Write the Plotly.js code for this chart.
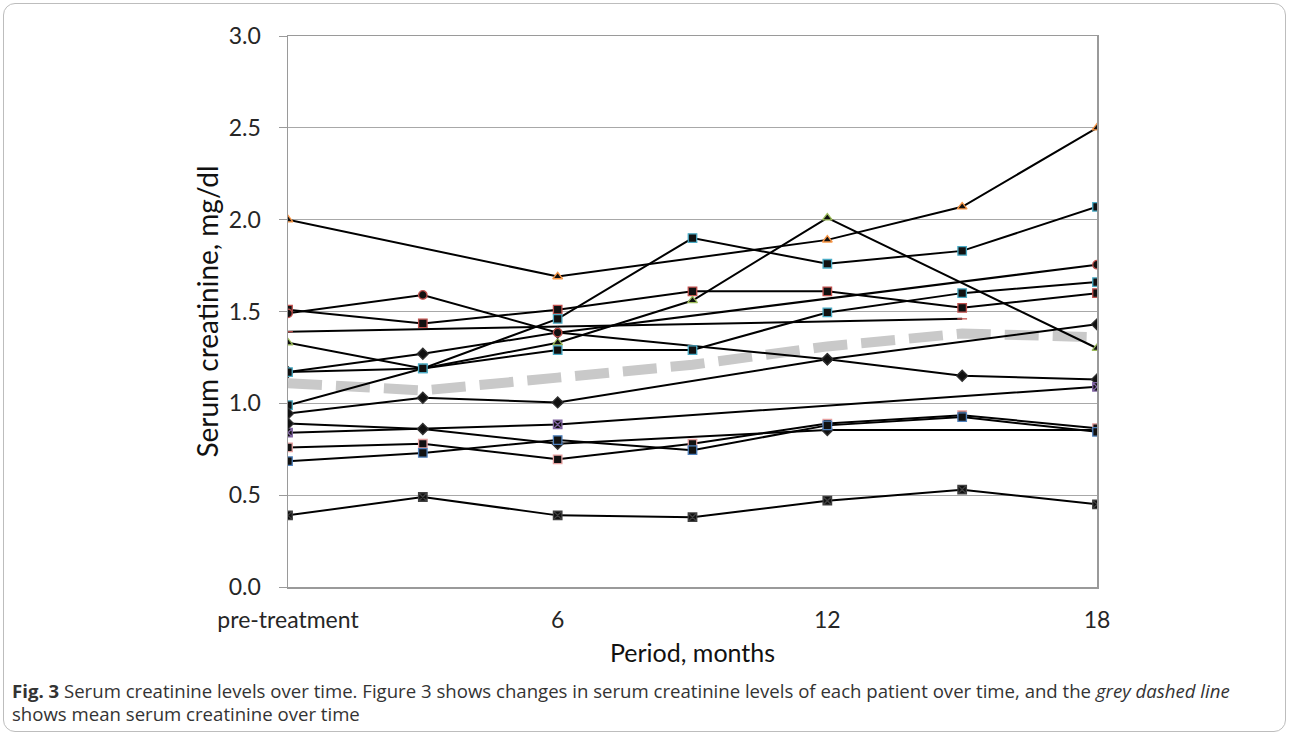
<!DOCTYPE html>
<html>
<head>
<meta charset="utf-8">
<script src="https://cdn.plot.ly/plotly-3.0.1.min.js"></script>
<style>
  html, body { margin: 0; padding: 0; background: #fff; }
  #chart { position: absolute; left: 0; top: 0; width: 1290px; height: 735px; }
  #frame { position: absolute; left: 3px; top: 3px; width: 1281px; height: 727px;
           border: 1.5px solid #bdbdbd; border-radius: 12px; pointer-events: none; }
</style>
</head>
<body>
<div id="chart"></div>
<div id="frame"></div>
<script>
// Periods (months) – categories of the x axis
const periods = ['pre-treatment', '3', '6', '9', '12', '15', '18'];
const tickLabels = ['pre-treatment', '6', '12', '18'];

// Serum creatinine (mg/dl) for each patient; null = no value at that visit
const p1  = [2.00, null, 1.69, null, 1.89, 2.07, 2.50];
const p2  = [1.51, 1.435, 1.51, 1.61, 1.61, 1.52, 1.60];
const p3  = [1.39, null, null, null, null, 1.46, null];
const p4  = [0.39, 0.49, 0.39, 0.38, 0.47, 0.53, 0.45];
const p5  = [0.99, 1.19, 1.46, 1.90, 1.76, 1.83, 2.07];
const p6  = [1.33, 1.19, 1.33, 1.56, 2.01, null, 1.30];
const p7  = [1.17, 1.27, 1.385, null, 1.24, 1.15, 1.13];
const p8  = [1.49, 1.59, 1.385, null, null, null, 1.755];
const p9  = [0.945, 1.03, 1.005, null, 1.24, null, 1.43];
const p10 = [1.17, 1.19, 1.29, 1.29, 1.495, 1.60, 1.66];
const p11 = [0.84, null, 0.885, null, null, null, 1.09];
const p12 = [0.89, 0.86, 0.78, null, 0.855, null, 0.855];
const p13 = [0.76, 0.78, 0.695, 0.78, 0.89, 0.935, 0.865];
const p14 = [0.685, 0.73, 0.80, 0.745, 0.88, 0.925, 0.845];
// Mean serum creatinine
const meanValues = [1.11, 1.07, 1.14, 1.21, 1.31, 1.38, 1.36];

const captionLine1 = '<b>Fig. 3</b> Serum creatinine levels over time. Figure 3 shows changes in serum creatinine levels of each patient over time, and the <i>grey dashed line</i>';
const captionLine2 = 'shows mean serum creatinine over time';

const patients = [p1, p2, p3, p4, p5, p6, p7, p8, p9, p10, p11, p12, p13, p14];
const symbols  = ['triangle-up', 'square', 'line-ew', 'square-x', 'square', 'triangle-up', 'diamond',
                  'circle', 'diamond', 'square', 'square-x', 'diamond', 'square', 'square'];
const borders  = ['#F79646', '#C0504D', '#C0504D', '#404040', '#4BACC6', '#9BBB59', '#303030',
                  '#C0504D', '#303030', '#4BACC6', '#8064A2', '#303030', '#E6A0A0', '#4F81BD'];

const traces = [];
traces.push({
  x: periods, y: meanValues, type: 'scatter', mode: 'lines',
  line: {color: '#c9c9c9', width: 10, dash: '34px,14px'},
  hoverinfo: 'skip', showlegend: false
});
patients.forEach((vals, i) => {
  traces.push({
    x: periods, y: vals, type: 'scatter', mode: 'lines+markers',
    connectgaps: true,
    line: {color: '#000000', width: 2},
    marker: {symbol: symbols[i], size: symbols[i] === 'line-ew' ? 7 : 8.5,
             color: '#111111', line: {color: borders[i], width: 1.3}},
    showlegend: false
  });
});

const capFont = {family: '"Open Sans", sans-serif', size: 18.6, color: '#333'};
const layout = {
  width: 1290, height: 735,
  margin: {l: 288, r: 193, t: 36, b: 148},
  paper_bgcolor: '#ffffff', plot_bgcolor: '#ffffff',
  font: {family: 'Lato, "Open Sans", sans-serif', color: '#262626'},
  showlegend: false,
  xaxis: {
    type: 'category', range: [0, 6],
    tickmode: 'array', tickvals: tickLabels, ticktext: tickLabels,
    tickfont: {size: 23, color: '#262626'},
    ticks: '', showgrid: false, zeroline: false,
    showline: true, linecolor: '#9a9a9a', linewidth: 1.5, mirror: true,
    ticklabelstandoff: 12,
    title: {text: 'Period, months', font: {size: 25, color: '#111'}, standoff: 12}
  },
  yaxis: {
    range: [0, 3], dtick: 0.5, tickformat: '.1f',
    tickfont: {size: 23, color: '#262626'},
    ticks: 'outside', ticklen: 8, tickcolor: '#9a9a9a',
    showgrid: true, gridcolor: '#a8a8a8', gridwidth: 1.2, zeroline: false,
    showline: true, linecolor: '#9a9a9a', linewidth: 1.5, mirror: true,
    ticklabelstandoff: 13,
    title: {text: 'Serum creatinine, mg/dl', font: {size: 28, color: '#111'}, standoff: 2}
  },
  annotations: [{
    xref: 'paper', yref: 'paper',
    x: (10 - 288) / 809, y: (587 - 690) / 551,
    xanchor: 'left', yanchor: 'middle', align: 'left', showarrow: false,
    font: capFont, text: captionLine1
  }, {
    xref: 'paper', yref: 'paper',
    x: (10 - 288) / 809, y: (587 - 713) / 551,
    xanchor: 'left', yanchor: 'middle', align: 'left', showarrow: false,
    font: capFont, text: captionLine2
  }]
};

Plotly.newPlot('chart', traces, layout, {staticPlot: true, displayModeBar: false});
</script>
</body>
</html>
